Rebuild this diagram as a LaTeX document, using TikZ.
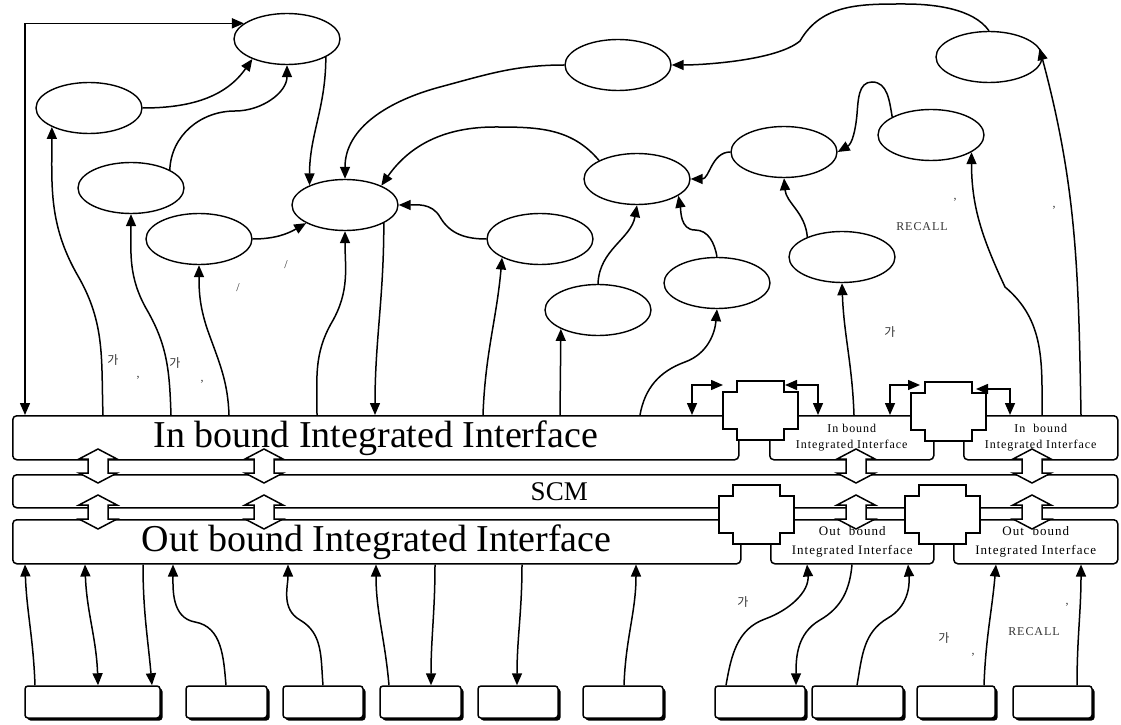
\documentclass[tikz,border=0pt]{standalone}
\usepackage{fontspec}
\setmainfont{Liberation Serif}
\newfontfamily\spaced[LetterSpace=8]{Liberation Serif}
\newfontfamily\kor{Noto Sans CJK KR}
\usepackage{tikz}
\usetikzlibrary{shapes.geometric, arrows.meta, shadows}
\tikzstyle{state}  = [ellipse, draw=black, line width=1.4pt, minimum width=106pt,
                      minimum height=51pt, inner sep=0pt]
\tikzstyle{bar}    = [rectangle, rounded corners=4pt, draw=black, line width=1.5pt,
                      fill=white, inner sep=0pt, anchor=north west, align=center]
\tikzstyle{bigbar} = [bar, minimum height=44pt, font=\fontsize{38}{40}\selectfont]
\tikzstyle{inbar}  = [bar, minimum height=44pt, font=\spaced\fontsize{12}{16}\selectfont]
\tikzstyle{outbar} = [bar, minimum height=44pt, font=\spaced\fontsize{13}{19}\selectfont]
\tikzstyle{unit}   = [rectangle, rounded corners=3pt, draw=black, line width=1.5pt,
                      fill=white, minimum height=32pt, inner sep=0pt,
                      general shadow={fill=black, shadow xshift=2.5pt, shadow yshift=-2.5pt}]
\tikzstyle{plug}   = [draw=black, line width=1.5pt, fill=white]
\tikzstyle{hollow} = [draw=black, line width=1.5pt, fill=white, line join=miter]
\tikzstyle{arrow}  = [-{Triangle[length=12pt, width=10pt]}, line width=1.5pt]
\tikzstyle{darrow} = [{Triangle[length=12pt, width=10pt]}-{Triangle[length=12pt, width=10pt]},
                      line width=1.5pt]
\tikzstyle{note}   = [inner sep=0pt, text=black!80, font=\spaced\fontsize{12}{14}\selectfont]
\tikzstyle{knote}  = [inner sep=0pt, text=black!80, font=\kor\fontsize{12}{14}\selectfont]

% stepped connector piece, #1 = top left corner of its upper part
\newcommand{\plugat}[1]{\filldraw[plug] (#1) ++(0,-11) -- ++(14,0) -- ++(0,11) -- ++(47,0)
  -- ++(0,-11) -- ++(14,0) -- ++(0,-37) -- ++(-14,0) -- ++(0,-11) -- ++(-47,0)
  -- ++(0,11) -- ++(-14,0) -- cycle;}
% hollow two-way arrow, #1 = x, #2 = top, #3 = bottom
\newcommand{\dblat}[3]{\filldraw[hollow] (#1,#2) -- (#1+19,#2-10) -- (#1+10,#2-10)
  -- (#1+10,#3+10) -- (#1+19,#3+10) -- (#1,#3) -- (#1-19,#3+10) -- (#1-10,#3+10)
  -- (#1-10,#2-10) -- (#1-19,#2-10) -- cycle;}

\begin{document}
\begin{tikzpicture}[x=1pt, y=1pt]
  \useasboundingbox (0,0) rectangle (1121,724);

  % Bus bars
  \node[bigbar, minimum width=726pt] (inb) at (12,309) {In bound Integrated Interface};
  \node[inbar, minimum width=164pt] (inbs1) at (769,309) {In bound\\Integrated Interface};
  \node[inbar, minimum width=154pt] (inbs2) at (963,309) {In \ bound\\Integrated Interface};
  \node[bar, minimum width=1105pt, minimum height=33pt,
        font=\fontsize{27}{29}\selectfont] (scm) at (12,250) {SCM\hspace*{12pt}};
  \node[bigbar, minimum width=728pt] (outb) at (12,205) {Out bound Integrated Interface};
  \node[outbar, minimum width=163pt] (outbs1) at (770,205) {Out \ bound\\Integrated Interface};
  \node[outbar, minimum width=164pt] (outbs2) at (953,205) {Out \ bound\\Integrated Interface};

  % Connector pieces
  \plugat{723,343}
  \plugat{911,342}
  \plugat{719,239}
  \plugat{905,239}
  \coordinate (k1w) at (723,339);
  \coordinate (k1e) at (785,339);
  \coordinate (k2w) at (920,339);
  \coordinate (k2e) at (976,335);

  % Two-way links between bars
  \foreach \x in {98,264,856,1032} {
    \dblat{\x}{275}{241}
    \dblat{\x}{229}{195}
  }

  % States
  \node[state] (e1)  at (287,685) {};
  \node[state] (e2)  at (89,616)  {};
  \node[state] (e3)  at (131,536) {};
  \node[state] (e4)  at (199,485) {};
  \node[state] (e5)  at (345,519) {};
  \node[state] (e6)  at (618,659) {};
  \node[state] (e7)  at (989,667) {};
  \node[state] (e8)  at (931,589) {};
  \node[state] (e9)  at (784,572) {};
  \node[state] (e10) at (637,545) {};
  \node[state] (e11) at (540,485) {};
  \node[state] (e12) at (842,467) {};
  \node[state] (e13) at (717,441) {};
  \node[state] (e14) at (598,414) {};

  % Units
  \foreach \n/\x/\w in {1/92.5/135, 2/226.5/81, 3/323/80, 4/420.5/81, 5/518/80,
                        6/623/80, 7/760/90, 8/857.5/91, 9/956/78, 10/1052.5/79}
    \node[unit, minimum width=\w pt] (b\n) at (\x,22) {};

  % Between states
  \draw[darrow] (25,0 |- inb.north) |- (e1.160);
  \draw[arrow] (e2.east) to[out=0, in=235] (e1.210);
  \draw[arrow] (e3.25) to[out=88, in=180] (235,613) to[out=0, in=-90] (e1.south);
  \draw[arrow] (e1.335) to[out=-90, in=90] (e5.151);
  \draw[arrow] (e4.east) to[out=0, in=210] (e5.205);
  \draw[arrow] (e7.north) to[out=125, in=0, looseness=0.8] (905,720)
               to[out=180, in=60] (800,683) to[out=220, in=0, looseness=0.6] (e6.east);
  \draw[arrow] (e6.west) to[out=180, in=15] (440,637) to[out=195, in=90] (e5.north);
  \draw[arrow] (e10.154) to[out=130, in=0] (495,597) to[out=180, in=55] (e5.28);
  \draw[arrow] (e11.west) to[out=180, in=-60] (440,507) to[out=120, in=0] (e5.east);
  \draw[arrow] (e9.west) to[out=180, in=0] (e10.east);
  \draw[arrow] (e8.155) to[out=100, in=0] (872,642) to[out=180, in=85] (857,610)
               to[out=-95, in=30] (e9.east);
  \draw[arrow] (e14.north) to[out=88, in=-100] (e10.south);
  \draw[arrow] (e13.north) to[out=100, in=0] (695,494) to[out=180, in=-80] (e10.338);
  \draw[arrow] (e12.150) to[out=95, in=-85] (e9.south);

  % In bound to states
  \draw[arrow] (103,0 |- inb.north) to[out=92, in=-60] (78,448) to[out=120, in=-90] (e2.207);
  \draw[arrow] (171,0 |- inb.north) to[out=92, in=-60] (147,414) to[out=120, in=-90] (e3.south);
  \draw[arrow] (229,0 |- inb.north) to[out=92, in=-70] (209,390) to[out=110, in=-90] (e4.south);
  \draw[arrow] (317,0 |- inb.north) to[out=90, in=-120] (332,402) to[out=60, in=-90] (e5.south);
  \draw[arrow] (e5.335) to[out=-90, in=90] (375,0 |- inb.north);
  \draw[arrow] (483,0 |- inb.north) to[out=88, in=-95] (e11.206);
  \draw[arrow] (560,0 |- inb.north) -- (e14.207);
  \draw[arrow] (640,0 |- inb.north) to[out=80, in=200] (685,362) to[out=20, in=-95] (e13.south);
  \draw[arrow] (854,0 |- inbs1.north) to[out=92, in=-88] (e12.south);
  \draw[arrow] (1042,0 |- inbs2.north) to[out=90, in=-40] (1005,437)
               to[out=115, in=-90] (e8.337);
  \draw[arrow] (1081,0 |- inbs2.north) to[out=91, in=-75] (e7.10);

  % Hooks on connector pieces
  \draw[darrow] (692,0 |- inb.north) |- (k1w);
  \draw[darrow] (818,0 |- inbs1.north) |- (k1e);
  \draw[darrow] (890,0 |- inbs1.north) |- (k2w);
  \draw[darrow] (1010,0 |- inbs2.north) |- (k2e);

  % Units to out bound
  \draw[arrow] (35,0 |- b1.north) to[out=92, in=-88] (25,0 |- outb.south);
  \draw[darrow] (85,0 |- outb.south) to[out=-88, in=92] (98,0 |- b1.north);
  \draw[arrow] (143,0 |- outb.south) to[out=-90, in=95] (152,0 |- b1.north);
  \draw[arrow] (226,0 |- b2.north) to[out=95, in=-10] (195,102) to[out=170, in=-90] (173,0 |- outb.south);
  \draw[arrow] (323,0 |- b3.north) to[out=95, in=-30] (300,104) to[out=150, in=-90] (288,0 |- outb.south);
  \draw[arrow] (389,0 |- b4.north) to[out=95, in=-90] (376,0 |- outb.south);
  \draw[arrow] (435,0 |- outb.south) to[out=-90, in=90] (431,0 |- b4.north);
  \draw[arrow] (522,0 |- outb.south) to[out=-90, in=90] (517,0 |- b5.north);
  \draw[arrow] (624,0 |- b6.north) to[out=88, in=-90] (636,0 |- outb.south);
  \draw[arrow] (726,0 |- b7.north) to[out=80, in=200] (765,105) to[out=20, in=-85] (807,0 |- outbs1.south);
  \draw[arrow] (852,0 |- outbs1.south) to[out=-95, in=30] (820,104) to[out=210, in=90] (796,0 |- b7.north);
  \draw[arrow] (857,0 |- b8.north) to[out=80, in=210] (888,106) to[out=30, in=-85] (908,0 |- outbs1.south);
  \draw[arrow] (984,0 |- b9.north) to[out=88, in=-95] (996,0 |- outbs2.south);
  \draw[arrow] (1077,0 |- b10.north) to[out=90, in=-90] (1081,0 |- outbs2.south);

  % Labels
  \node[knote] (g1) at (113,364) {가};
  \node[note]  (c1) at (138,346) {,};
  \node[knote] (g2) at (175,361) {가};
  \node[note]  (c2) at (202,342) {,};
  \node[note]  (s1) at (286,459) {/};
  \node[note]  (s2) at (238,436) {/};
  \node[note]  (c3) at (955,524) {,};
  \node[note]  (c4) at (1054,516) {,};
  \node[note]  (r1) at (922,497) {RECALL};
  \node[knote] (g3) at (890,392) {가};
  \node[knote] (g4) at (743,122) {가};
  \node[knote] (g5) at (944,86)  {가};
  \node[note]  (c5) at (973,69)  {,};
  \node[note]  (r2) at (1034,92) {RECALL};
  \node[note]  (c6) at (1067,119) {,};
\end{tikzpicture}
\end{document}
